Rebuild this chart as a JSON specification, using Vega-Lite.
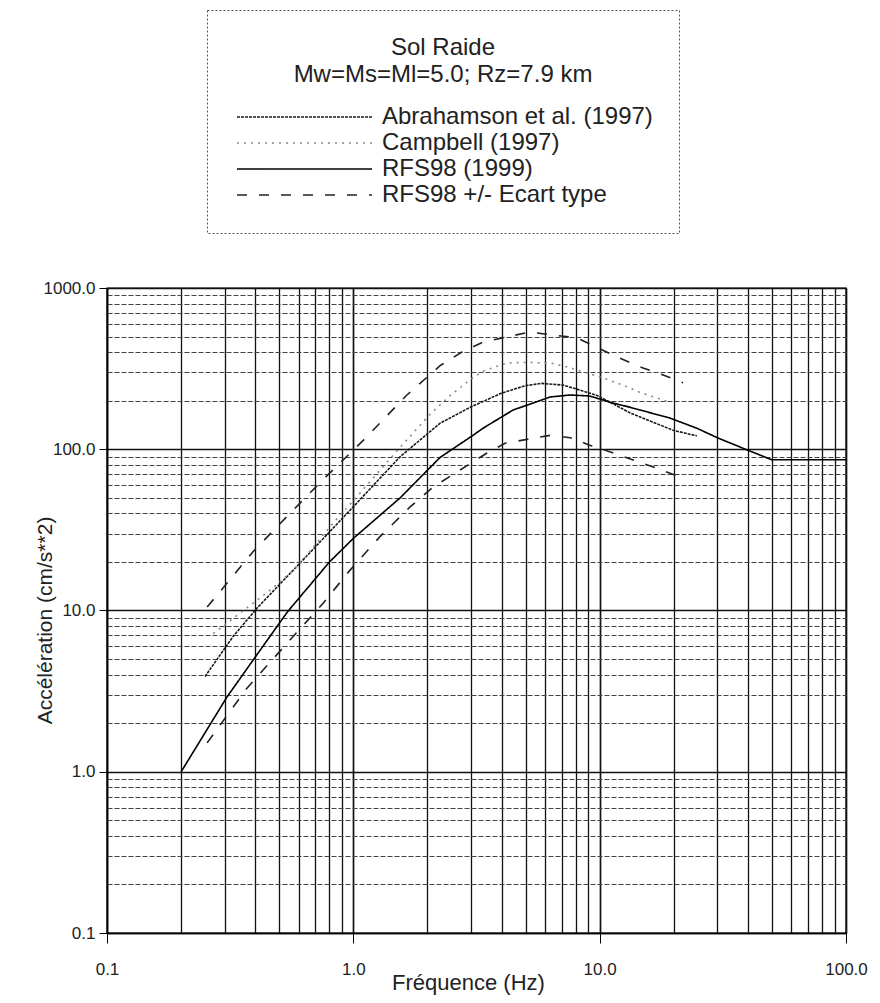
{
  "$schema": "https://vega.github.io/schema/vega-lite/v6.json",
  "width": 739,
  "height": 645,
  "autosize": {"type": "none"},
  "padding": {"left": 107, "top": 288, "right": 34, "bottom": 70},
  "background": "white",
  "config": {
    "font": "Liberation Sans",
    "view": {"stroke": "#000", "strokeWidth": 1.4},
    "legend": {"strokeColor": "#555", "strokeDash": [2, 2], "strokeWidth": 1, "fillColor": "white"}
  },
  "data": {
    "values": [
      {"serie": "Abrahamson et al. (1997)", "branch": "A", "f": 0.25, "a": 3.9},
      {"serie": "Abrahamson et al. (1997)", "branch": "A", "f": 0.325, "a": 6.9},
      {"serie": "Abrahamson et al. (1997)", "branch": "A", "f": 0.41, "a": 10.5},
      {"serie": "Abrahamson et al. (1997)", "branch": "A", "f": 0.625, "a": 20.6},
      {"serie": "Abrahamson et al. (1997)", "branch": "A", "f": 1.0, "a": 44},
      {"serie": "Abrahamson et al. (1997)", "branch": "A", "f": 1.55, "a": 90},
      {"serie": "Abrahamson et al. (1997)", "branch": "A", "f": 2.25, "a": 145},
      {"serie": "Abrahamson et al. (1997)", "branch": "A", "f": 3.0, "a": 183},
      {"serie": "Abrahamson et al. (1997)", "branch": "A", "f": 4.0, "a": 223},
      {"serie": "Abrahamson et al. (1997)", "branch": "A", "f": 5.0, "a": 248},
      {"serie": "Abrahamson et al. (1997)", "branch": "A", "f": 5.8, "a": 256},
      {"serie": "Abrahamson et al. (1997)", "branch": "A", "f": 7.1, "a": 250},
      {"serie": "Abrahamson et al. (1997)", "branch": "A", "f": 8.3, "a": 233},
      {"serie": "Abrahamson et al. (1997)", "branch": "A", "f": 9.8, "a": 215},
      {"serie": "Abrahamson et al. (1997)", "branch": "A", "f": 13.3, "a": 168},
      {"serie": "Abrahamson et al. (1997)", "branch": "A", "f": 19.9, "a": 131},
      {"serie": "Abrahamson et al. (1997)", "branch": "A", "f": 24.8, "a": 121},

      {"serie": "Campbell (1997)", "branch": "C", "f": 0.27, "a": 7.2},
      {"serie": "Campbell (1997)", "branch": "C", "f": 0.46, "a": 13.4},
      {"serie": "Campbell (1997)", "branch": "C", "f": 0.59, "a": 18.6},
      {"serie": "Campbell (1997)", "branch": "C", "f": 0.83, "a": 35},
      {"serie": "Campbell (1997)", "branch": "C", "f": 1.0, "a": 48},
      {"serie": "Campbell (1997)", "branch": "C", "f": 1.55, "a": 103},
      {"serie": "Campbell (1997)", "branch": "C", "f": 2.05, "a": 165},
      {"serie": "Campbell (1997)", "branch": "C", "f": 2.47, "a": 215},
      {"serie": "Campbell (1997)", "branch": "C", "f": 2.98, "a": 270},
      {"serie": "Campbell (1997)", "branch": "C", "f": 3.36, "a": 305},
      {"serie": "Campbell (1997)", "branch": "C", "f": 4.2, "a": 343},
      {"serie": "Campbell (1997)", "branch": "C", "f": 5.2, "a": 346},
      {"serie": "Campbell (1997)", "branch": "C", "f": 6.45, "a": 340},
      {"serie": "Campbell (1997)", "branch": "C", "f": 7.6, "a": 320},
      {"serie": "Campbell (1997)", "branch": "C", "f": 8.9, "a": 297},
      {"serie": "Campbell (1997)", "branch": "C", "f": 10.3, "a": 277},
      {"serie": "Campbell (1997)", "branch": "C", "f": 12.4, "a": 250},
      {"serie": "Campbell (1997)", "branch": "C", "f": 14.5, "a": 226},
      {"serie": "Campbell (1997)", "branch": "C", "f": 18.1, "a": 202},
      {"serie": "Campbell (1997)", "branch": "C", "f": 19.4, "a": 196},

      {"serie": "RFS98 (1999)", "branch": "R", "f": 0.2, "a": 1.0},
      {"serie": "RFS98 (1999)", "branch": "R", "f": 0.307, "a": 2.91},
      {"serie": "RFS98 (1999)", "branch": "R", "f": 0.4, "a": 5.15},
      {"serie": "RFS98 (1999)", "branch": "R", "f": 0.54, "a": 9.8},
      {"serie": "RFS98 (1999)", "branch": "R", "f": 0.8, "a": 20},
      {"serie": "RFS98 (1999)", "branch": "R", "f": 1.0, "a": 28},
      {"serie": "RFS98 (1999)", "branch": "R", "f": 1.55, "a": 50},
      {"serie": "RFS98 (1999)", "branch": "R", "f": 2.25, "a": 89},
      {"serie": "RFS98 (1999)", "branch": "R", "f": 3.06, "a": 122},
      {"serie": "RFS98 (1999)", "branch": "R", "f": 3.36, "a": 135},
      {"serie": "RFS98 (1999)", "branch": "R", "f": 4.45, "a": 175},
      {"serie": "RFS98 (1999)", "branch": "R", "f": 6.3, "a": 211},
      {"serie": "RFS98 (1999)", "branch": "R", "f": 7.6, "a": 217},
      {"serie": "RFS98 (1999)", "branch": "R", "f": 9.1, "a": 214},
      {"serie": "RFS98 (1999)", "branch": "R", "f": 11, "a": 196},
      {"serie": "RFS98 (1999)", "branch": "R", "f": 13.3, "a": 182},
      {"serie": "RFS98 (1999)", "branch": "R", "f": 19.3, "a": 156},
      {"serie": "RFS98 (1999)", "branch": "R", "f": 24.8, "a": 135},
      {"serie": "RFS98 (1999)", "branch": "R", "f": 30, "a": 118},
      {"serie": "RFS98 (1999)", "branch": "R", "f": 39.7, "a": 99},
      {"serie": "RFS98 (1999)", "branch": "R", "f": 50, "a": 86},
      {"serie": "RFS98 (1999)", "branch": "R", "f": 100, "a": 86},

      {"serie": "RFS98 +/- Ecart type", "branch": "U", "f": 0.255, "a": 10.5},
      {"serie": "RFS98 +/- Ecart type", "branch": "U", "f": 0.39, "a": 23},
      {"serie": "RFS98 +/- Ecart type", "branch": "U", "f": 0.57, "a": 42},
      {"serie": "RFS98 +/- Ecart type", "branch": "U", "f": 0.77, "a": 67},
      {"serie": "RFS98 +/- Ecart type", "branch": "U", "f": 1.1, "a": 114},
      {"serie": "RFS98 +/- Ecart type", "branch": "U", "f": 1.65, "a": 217},
      {"serie": "RFS98 +/- Ecart type", "branch": "U", "f": 2.25, "a": 330},
      {"serie": "RFS98 +/- Ecart type", "branch": "U", "f": 2.76, "a": 401},
      {"serie": "RFS98 +/- Ecart type", "branch": "U", "f": 3.36, "a": 462},
      {"serie": "RFS98 +/- Ecart type", "branch": "U", "f": 5.2, "a": 533},
      {"serie": "RFS98 +/- Ecart type", "branch": "U", "f": 8.1, "a": 490},
      {"serie": "RFS98 +/- Ecart type", "branch": "U", "f": 11.8, "a": 373},
      {"serie": "RFS98 +/- Ecart type", "branch": "U", "f": 15, "a": 319},
      {"serie": "RFS98 +/- Ecart type", "branch": "U", "f": 18.1, "a": 289},
      {"serie": "RFS98 +/- Ecart type", "branch": "U", "f": 21.8, "a": 258},

      {"serie": "RFS98 +/- Ecart type", "branch": "L", "f": 0.255, "a": 1.51},
      {"serie": "RFS98 +/- Ecart type", "branch": "L", "f": 0.37, "a": 3.3},
      {"serie": "RFS98 +/- Ecart type", "branch": "L", "f": 0.553, "a": 6.56},
      {"serie": "RFS98 +/- Ecart type", "branch": "L", "f": 0.754, "a": 11.1},
      {"serie": "RFS98 +/- Ecart type", "branch": "L", "f": 0.97, "a": 17.8},
      {"serie": "RFS98 +/- Ecart type", "branch": "L", "f": 1.28, "a": 28.6},
      {"serie": "RFS98 +/- Ecart type", "branch": "L", "f": 1.7, "a": 43.9},
      {"serie": "RFS98 +/- Ecart type", "branch": "L", "f": 2.11, "a": 58.3},
      {"serie": "RFS98 +/- Ecart type", "branch": "L", "f": 3.49, "a": 94.8},
      {"serie": "RFS98 +/- Ecart type", "branch": "L", "f": 4.13, "a": 109},
      {"serie": "RFS98 +/- Ecart type", "branch": "L", "f": 6.3, "a": 122},
      {"serie": "RFS98 +/- Ecart type", "branch": "L", "f": 7.6, "a": 118},
      {"serie": "RFS98 +/- Ecart type", "branch": "L", "f": 9.1, "a": 106},
      {"serie": "RFS98 +/- Ecart type", "branch": "L", "f": 11.3, "a": 95},
      {"serie": "RFS98 +/- Ecart type", "branch": "L", "f": 16.5, "a": 77.6},
      {"serie": "RFS98 +/- Ecart type", "branch": "L", "f": 21.2, "a": 67.3}
    ]
  },
  "mark": {"type": "line", "strokeWidth": 1.6},
  "encoding": {
    "x": {
      "field": "f",
      "type": "quantitative",
      "scale": {"type": "log", "domain": [0.1, 100], "nice": false},
      "axis": {
        "values": [0.1, 0.2, 0.3, 0.4, 0.5, 0.6, 0.7, 0.8, 0.9, 1, 2, 3, 4, 5, 6, 7, 8, 9, 10, 20, 30, 40, 50, 60, 70, 80, 90, 100],
        "labelExpr": "datum.value == 0.1 ? '0.1' : datum.value == 1 ? '1.0' : datum.value == 10 ? '10.0' : datum.value == 100 ? '100.0' : ''",
        "labelFontSize": 17,
        "labelColor": "#222",
        "labelFlush": false,
        "labelOverlap": false,
        "labelPadding": 18,
        "tickSize": 10,
        "tickColor": "#000",
        "tickOpacity": {"condition": {"test": "datum.value == 0.1 || datum.value == 1 || datum.value == 10 || datum.value == 100", "value": 1}, "value": 0},
        "grid": true,
        "gridColor": "#111",
        "gridOpacity": 1,
        "gridWidth": {"condition": {"test": "datum.value == 0.1 || datum.value == 1 || datum.value == 10 || datum.value == 100", "value": 1.7}, "value": 1.3},
        "domainColor": "#000",
        "domainWidth": 1.4,
        "title": "Fréquence (Hz)",
        "titleFontSize": 22,
        "titleFontWeight": "normal",
        "titleColor": "#222",
        "titleX": 361,
        "titleY": 49,
        "titleBaseline": "middle",
        "titleAlign": "center"
      }
    },
    "y": {
      "field": "a",
      "type": "quantitative",
      "scale": {"type": "log", "domain": [0.1, 1000], "nice": false},
      "axis": {
        "values": [0.1, 0.2, 0.3, 0.4, 0.5, 0.6, 0.7, 0.8, 0.9, 1, 2, 3, 4, 5, 6, 7, 8, 9, 10, 20, 30, 40, 50, 60, 70, 80, 90, 100, 200, 300, 400, 500, 600, 700, 800, 900, 1000],
        "labelExpr": "datum.value == 0.1 ? '0.1' : datum.value == 1 ? '1.0' : datum.value == 10 ? '10.0' : datum.value == 100 ? '100.0' : datum.value == 1000 ? '1000.0' : ''",
        "labelFontSize": 17,
        "labelColor": "#222",
        "labelFlush": false,
        "labelOverlap": false,
        "labelPadding": 4,
        "tickSize": 8,
        "tickColor": "#000",
        "tickOpacity": {"condition": {"test": "datum.value == 0.1 || datum.value == 1 || datum.value == 10 || datum.value == 100 || datum.value == 1000", "value": 1}, "value": 0},
        "grid": true,
        "gridOpacity": 1,
        "gridColor": {"condition": {"test": "datum.value == 0.1 || datum.value == 1 || datum.value == 10 || datum.value == 100 || datum.value == 1000", "value": "#111"}, "value": "#444"},
        "gridWidth": {"condition": {"test": "datum.value == 0.1 || datum.value == 1 || datum.value == 10 || datum.value == 100 || datum.value == 1000", "value": 1.4}, "value": 1},
        "gridDash": {"condition": {"test": "datum.value == 0.1 || datum.value == 1 || datum.value == 10 || datum.value == 100 || datum.value == 1000", "value": []}, "value": [5, 2]},
        "domainColor": "#000",
        "domainWidth": 1.4,
        "title": "Accélération (cm/s**2)",
        "titleFontSize": 21,
        "titleFontWeight": "normal",
        "titleColor": "#222",
        "titleAngle": -90,
        "titleX": -62,
        "titleY": 332,
        "titleBaseline": "middle",
        "titleAlign": "center"
      }
    },
    "stroke": {
      "field": "serie",
      "type": "nominal",
      "scale": {
        "domain": ["Abrahamson et al. (1997)", "Campbell (1997)", "RFS98 (1999)", "RFS98 +/- Ecart type"],
        "range": ["#1a1a1a", "#8a8a8a", "#000000", "#222222"]
      },
      "legend": {
        "orient": "none",
        "legendX": 100,
        "legendY": -278,
        "title": ["Sol Raide", "Mw=Ms=Ml=5.0; Rz=7.9 km"],
        "titleFontSize": 24,
        "titleFontWeight": "normal",
        "titleColor": "#222",
        "titleAnchor": "middle",
        "titleAlign": "center",
        "titleLineHeight": 27,
        "titleLimit": 600,
        "titlePadding": 18,
        "labelFontSize": 24,
        "labelColor": "#222",
        "labelLimit": 0,
        "labelOffset": 125,
        "symbolType": "M-0.8,0L12.7,0",
        "symbolSize": 400,
        "symbolStrokeWidth": 1.5,
        "rowPadding": 2,
        "padding": 26
      }
    },
    "strokeDash": {
      "field": "serie",
      "type": "nominal",
      "scale": {
        "domain": ["Abrahamson et al. (1997)", "Campbell (1997)", "RFS98 (1999)", "RFS98 +/- Ecart type"],
        "range": [[3, 1], [2, 5], [1, 0], [10, 12]]
      },
      "legend": {
        "orient": "none",
        "legendX": 100,
        "legendY": -278,
        "title": ["Sol Raide", "Mw=Ms=Ml=5.0; Rz=7.9 km"],
        "titleFontSize": 24,
        "titleFontWeight": "normal",
        "titleColor": "#222",
        "titleAnchor": "middle",
        "titleAlign": "center",
        "titleLineHeight": 27,
        "titleLimit": 600,
        "titlePadding": 18,
        "labelFontSize": 24,
        "labelColor": "#222",
        "labelLimit": 0,
        "labelOffset": 125,
        "symbolType": "M-0.8,0L12.7,0",
        "symbolSize": 400,
        "symbolStrokeWidth": 1.5,
        "rowPadding": 2,
        "padding": 26
      }
    },
    "detail": {"field": "branch", "type": "nominal"}
  }
}
